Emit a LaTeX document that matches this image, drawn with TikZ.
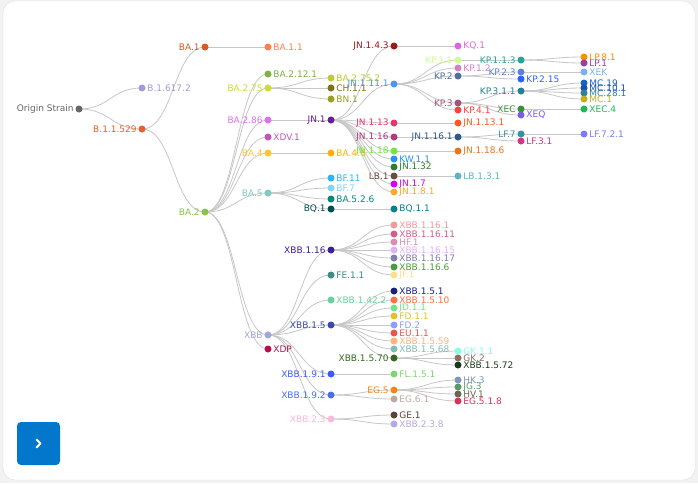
\documentclass[tikz,border=0pt]{standalone}
\usepackage{fontspec}
\setmainfont{DejaVu Sans}
\pgfdeclarelayer{bg}
\pgfdeclarelayer{edges}
\pgfsetlayers{bg,edges,main}
\tikzset{
  dot/.style={circle,inner sep=0pt,minimum size=7pt,draw=none},
  lbl/.style={inner sep=1pt,font=\fontsize{9}{10}\selectfont},
  edge/.style={draw=black!22,line width=0.8pt,out=0,in=180,distance=31.5pt},
  every label/.style={lbl},
  label distance=0.5pt
}
\newcommand\N[6]{\definecolor{c#1}{HTML}{#4}\node[dot,fill=c#1,label={[text=c#1]#6:#5}] (#1) at (#2,#3) {};}
\newcommand\Es[2]{\foreach \c in {#2}{\draw[edge] (#1.center) to (\c.center);}}
\begin{document}
\begin{tikzpicture}[x=1pt,y=-1pt]
\begin{pgfonlayer}{bg}
\fill[black!5] (0,0) rectangle (698,483);
\draw[fill=white,draw=black!12,rounded corners=12pt] (3,1) rectangle (695,480);
\end{pgfonlayer}
\useasboundingbox (0,0) rectangle (698,483);
% column 0-2
\N{origin}{79}{109}{666666}{Origin Strain}{left}
\N{bsixone}{142}{88}{A899DE}{B.1.617.2}{right}
\N{bfivetwonine}{142}{129}{E8602A}{B.1.1.529}{left}
\N{baone}{205}{47}{DB5A22}{BA.1}{left}
\N{batwo}{205}{212}{8BC34A}{BA.2}{left}
% column 3
\N{baoneone}{268}{47}{FF7F50}{BA.1.1}{right}
\N{batwelve}{268}{74}{7CB342}{BA.2.12.1}{right}
\N{baseventyfive}{268}{88}{CDDC39}{BA.2.75}{left}
\N{baeightysix}{268}{120}{E070F0}{BA.2.86}{left}
\N{xdvone}{268}{137}{C455B5}{XDV.1}{right}
\N{bafour}{268}{153}{FFC72C}{BA.4}{left}
\N{bafive}{268}{193}{7ECBC2}{BA.5}{left}
\N{xbb}{268}{335}{9FA8DA}{XBB}{left}
\N{xdp}{268}{349}{B80F4C}{XDP}{right}
% column 4
\N{basevfivetwo}{331}{78}{C0CA33}{BA.2.75.2}{right}
\N{choneone}{331}{88}{7D7115}{CH.1.1}{right}
\N{bnone}{331}{99}{9E9D24}{BN.1}{right}
\N{jnone}{331}{120}{6A1B9A}{JN.1}{left}
\N{bafoursix}{331}{153}{FFB300}{BA.4.6}{right}
\N{bfeleven}{331}{178}{29B6F6}{BF.11}{right}
\N{bfseven}{331}{188}{81D4FA}{BF.7}{right}
\N{bafivetwosix}{331}{199}{00897B}{BA.5.2.6}{right}
\N{bqone}{331}{209}{004D55}{BQ.1}{left}
\N{xbbsixteen}{331}{250}{3A1FA0}{XBB.1.16}{left}
\N{feoneone}{331}{275}{3E8C86}{FE.1.1}{right}
\N{xbbfortytwo}{331}{300}{66D49A}{XBB.1.42.2}{right}
\N{xbbfive}{331}{325}{3949AB}{XBB.1.5}{left}
\N{xbbnineone}{331}{374}{3D5AFE}{XBB.1.9.1}{left}
\N{xbbninetwo}{331}{395}{4A6CF5}{XBB.1.9.2}{left}
\N{xbbtwothree}{331}{419}{F8BBD9}{XBB.2.3}{left}
% column 5
\N{jnfourthree}{394}{46}{9B1B1B}{JN.1.4.3}{left}
\N{jnelevenone}{394}{84}{4F93EF}{JN.1.11.1}{left}
\N{jnthirteen}{394}{123}{E8356A}{JN.1.13}{left}
\N{jnsixteen}{394}{137}{B23B7A}{JN.1.16}{left}
\N{jneighteen}{394}{151}{6EE83A}{JN.1.18}{left}
\N{kwoneone}{394}{159}{2196F3}{KW.1.1}{right}
\N{jnthirtytwo}{394}{167}{2E7D32}{JN.1.32}{right}
\N{lbone}{394}{176}{6D4C41}{LB.1}{left}
\N{jnseven}{394}{184}{D500F9}{JN.1.7}{right}
\N{jneightone}{394}{192}{FFA726}{JN.1.8.1}{right}
\N{bqoneone}{394}{209}{00838F}{BQ.1.1}{right}
\N{xa}{394}{225}{F29A9A}{XBB.1.16.1}{right}
\N{xb}{394}{234}{D0608A}{XBB.1.16.11}{right}
\N{hfone}{394}{242}{DB8FB0}{HF.1}{right}
\N{xc}{394}{250}{E0B0FF}{XBB.1.16.15}{right}
\N{xd}{394}{258}{8080B0}{XBB.1.16.17}{right}
\N{xe}{394}{267}{4E9A3E}{XBB.1.16.6}{right}
\N{jfone}{394}{275}{FFE08A}{JF.1}{right}
\N{xf}{394}{291}{1A237E}{XBB.1.5.1}{right}
\N{xg}{394}{300}{FF7043}{XBB.1.5.10}{right}
\N{jdoneone}{394}{308}{6EE58A}{JD.1.1}{right}
\N{fdoneone}{394}{316}{E6C229}{FD.1.1}{right}
\N{fdtwo}{394}{325}{8C9EFF}{FD.2}{right}
\N{euoneone}{394}{333}{EF5350}{EU.1.1}{right}
\N{xh}{394}{341}{FFB27A}{XBB.1.5.59}{right}
\N{xi}{394}{349}{80BDB5}{XBB.1.5.68}{right}
\N{xj}{394}{358}{33691E}{XBB.1.5.70}{left}
\N{flone}{394}{374}{7FD66F}{FL.1.5.1}{right}
\N{egfive}{394}{390}{F5861F}{EG.5}{left}
\N{egsixone}{394}{399}{BCAAA4}{EG.6.1}{right}
\N{geone}{394}{415}{5D4037}{GE.1}{right}
\N{xk}{394}{424}{B3A8E8}{XBB.2.3.8}{right}
% column 6
\N{kqone}{458}{46}{E066E0}{KQ.1}{right}
\N{kponeone}{458}{60}{CCFF90}{KP.1.1}{left}
\N{kponetwo}{458}{68}{D67FC6}{KP.1.2}{right}
\N{kptwo}{458}{76}{4E6E9E}{KP.2}{left}
\N{kpthree}{458}{103}{A5537A}{KP.3}{left}
\N{kpfourone}{458}{110}{FF4040}{KP.4.1}{right}
\N{jnthirteenone}{458}{123}{FF5722}{JN.1.13.1}{right}
\N{jnsixteenone}{458}{137}{2C5A8C}{JN.1.16.1}{left}
\N{jneighteensix}{458}{151}{E8741A}{JN.1.18.6}{right}
\N{lbonethreeone}{458}{176}{5FB3C4}{LB.1.3.1}{right}
\N{gkoneone}{458}{351}{84FFE0}{GK.1.1}{right}
\N{gktwo}{458}{358}{8D6E63}{GK.2}{right}
\N{xl}{458}{365}{1B3A1B}{XBB.1.5.72}{right}
\N{hkthree}{458}{380}{7F96C0}{HK.3}{right}
\N{jgthree}{458}{387}{5A9A6A}{JG.3}{right}
\N{hvone}{458}{394}{6B6552}{HV.1}{right}
\N{egfiveoneeight}{458}{401}{E0305A}{EG.5.1.8}{right}
% column 7
\N{kponeonethree}{521}{60}{26A69A}{KP.1.1.3}{left}
\N{kptwothree}{521}{72}{5B80E0}{KP.2.3}{left}
\N{kptwofifteen}{521}{79}{2962FF}{KP.2.15}{right}
\N{kpthreeoneone}{521}{91}{26808F}{KP.3.1.1}{left}
\N{xec}{521}{109}{3B8F3B}{XEC}{left}
\N{xeq}{521}{115}{7B5DE0}{XEQ}{right}
\N{lfseven}{521}{134}{3B8EA5}{LF.7}{left}
\N{lfthreeone}{521}{141}{D6338A}{LF.3.1}{right}
% column 8
\N{lpeightone}{584}{57}{FF8F00}{LP.8.1}{right}
\N{lpone}{584}{63}{9B3FA0}{LP.1}{right}
\N{xek}{584}{72}{7AB0F0}{XEK}{right}
\N{mcnineteen}{584}{83}{1565C0}{MC.19}{right}
\N{mctenone}{584}{88}{1A4FAE}{MC.10.1}{right}
\N{mctwentyeight}{584}{93}{2F7F9F}{MC.28.1}{right}
\N{mcone}{584}{99}{C2B21A}{MC.1}{right}
\N{xecfour}{584}{109}{1DB954}{XEC.4}{right}
\N{lfseventwoone}{584}{134}{7B7BFF}{LF.7.2.1}{right}
% edges
\begin{pgfonlayer}{edges}
\Es{origin}{bsixone,bfivetwonine}
\Es{bfivetwonine}{baone,batwo}
\Es{baone}{baoneone}
\Es{batwo}{batwelve,baseventyfive,baeightysix,xdvone,bafour,bafive,xbb,xdp}
\Es{baseventyfive}{basevfivetwo,choneone,bnone}
\Es{baeightysix}{jnone}
\Es{bafour}{bafoursix}
\Es{bafive}{bfeleven,bfseven,bafivetwosix,bqone}
\Es{bqone}{bqoneone}
\Es{jnone}{jnfourthree,jnelevenone,jnthirteen,jnsixteen,jneighteen,kwoneone,jnthirtytwo,lbone,jnseven,jneightone}
\Es{jnfourthree}{kqone}
\Es{jnelevenone}{kponeone,kponetwo,kptwo,kpthree,kpfourone}
\Es{kponeone}{kponeonethree}
\Es{kptwo}{kptwothree,kptwofifteen}
\Es{kpthree}{kpthreeoneone,xec,xeq}
\Es{kponeonethree}{lpeightone,lpone}
\Es{kptwothree}{xek}
\Es{kpthreeoneone}{mcnineteen,mctenone,mctwentyeight,mcone}
\Es{xec}{xecfour}
\Es{jnthirteen}{jnthirteenone}
\Es{jnsixteen}{jnsixteenone}
\Es{jnsixteenone}{lfseven,lfthreeone}
\Es{lfseven}{lfseventwoone}
\Es{jneighteen}{jneighteensix}
\Es{lbone}{lbonethreeone}
\Es{xbb}{xbbsixteen,feoneone,xbbfortytwo,xbbfive,xbbnineone,xbbninetwo,xbbtwothree}
\Es{xbbsixteen}{xa,xb,hfone,xc,xd,xe,jfone}
\Es{xbbfive}{xf,xg,jdoneone,fdoneone,fdtwo,euoneone,xh,xi,xj}
\Es{xj}{gkoneone,gktwo,xl}
\Es{xbbnineone}{flone}
\Es{xbbninetwo}{egfive,egsixone}
\Es{egfive}{hkthree,jgthree,hvone,egfiveoneeight}
\Es{xbbtwothree}{geone,xk}
\end{pgfonlayer}
% button
\definecolor{btn}{HTML}{0277CC}
\node[fill=btn,rounded corners=4pt,minimum size=43pt,inner sep=0pt] (button) at (38.5,443.5) {};
\draw[white,line width=1.8pt,line cap=round,line join=round] ([shift={(-2,-4)}]button.center) -- ([shift={(2,0)}]button.center) -- ([shift={(-2,4)}]button.center);
\end{tikzpicture}
\end{document}
